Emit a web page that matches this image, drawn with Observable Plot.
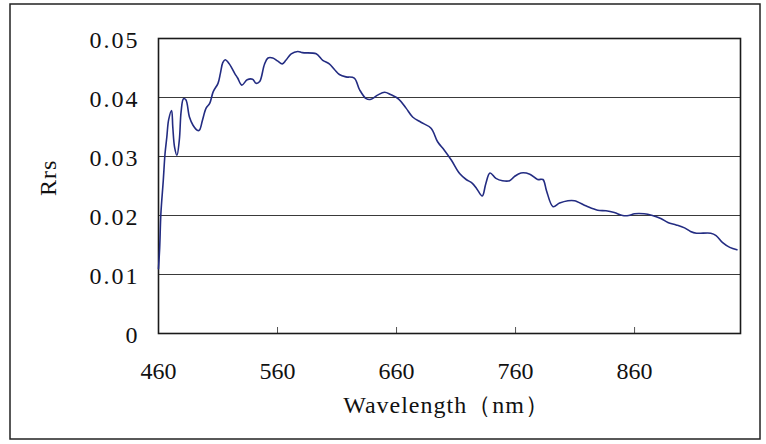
<!DOCTYPE html>
<html><head><meta charset="utf-8">
<script src="https://cdn.jsdelivr.net/npm/d3@7"></script>
<script src="https://cdn.jsdelivr.net/npm/@observablehq/plot@0.6"></script>
<style>body{margin:0;background:#fff}</style>
</head><body><div id="chart"></div>
<script>
const wavelength = [460,461,462,464,465.5,467,468.5,471,472,473.5,475.5,477.5,479,481,483,486,489,493,494.5,497,500,503,506,510,512,514,516,519.5,524,526.5,530,534.5,539,542,545,549,552,556,560,564,567,571.5,577,581,592.5,598,603.5,608,612,617.5,624.5,629,634.5,638.5,644,650,655,662,668,673.5,680.5,689,694.5,700,706,713,718.5,723.5,727.5,732,735,738.5,743.5,749,755,759,764.5,772,778.5,783,786,791.5,797,804,809.5,819.5,829,836,843,850,855,860,868,875,882,888,895,902,907,912,924,928.5,934,940,946];
const rrs = [0.0110,0.0146,0.0203,0.0259,0.0305,0.0333,0.0362,0.0378,0.0350,0.0316,0.0302,0.0328,0.0376,0.0398,0.0396,0.0367,0.0353,0.0344,0.0345,0.0362,0.0382,0.0390,0.0410,0.0424,0.0441,0.0459,0.0464,0.0457,0.0441,0.0433,0.0421,0.0430,0.0431,0.0424,0.0427,0.0456,0.0467,0.0467,0.0462,0.0457,0.0463,0.0474,0.0478,0.0476,0.0474,0.0463,0.0457,0.0447,0.0439,0.0435,0.0433,0.0413,0.0398,0.0397,0.0404,0.0409,0.0405,0.0397,0.0382,0.0367,0.0358,0.0348,0.0325,0.0311,0.0294,0.0271,0.0261,0.0255,0.0245,0.0233,0.0254,0.0272,0.0263,0.0259,0.0259,0.0266,0.0272,0.0270,0.0261,0.0261,0.0242,0.0215,0.0221,0.0225,0.0225,0.0216,0.0209,0.0208,0.0205,0.0200,0.0200,0.0203,0.0203,0.0200,0.0195,0.0188,0.0184,0.0179,0.0173,0.0170,0.0170,0.0166,0.0154,0.0146,0.0142];
const xTicks = [460,560,660,760,860];
const yTicks = [0,0.01,0.02,0.03,0.04,0.05];
const xTitle = "Wavelength（nm）";
const yTitle = "Rrs";

const data = wavelength.map((w,i)=>({w, r: rrs[i]}));

const chart = Plot.plot({
  width: 766, height: 444,
  marginLeft: 158, marginRight: 26, marginTop: 38, marginBottom: 111,
  style: {fontFamily: "'Liberation Serif', 'DejaVu Serif', serif", fontSize: "24px", background: "#fff", color: "#111"},
  x: {domain: [460, 949]},
  y: {domain: [0, 0.05]},
  marks: [
    Plot.gridY(yTicks.filter(d => d > 0), {stroke: "#3a3a3a", strokeOpacity: 1}),
    Plot.tickX(xTicks.slice(1), {x: d => d, stroke: "#555", insetTop: 289}),
    Plot.axisX({ticks: xTicks, tickSize: 0, tickPadding: 28, label: null, tickFormat: d => String(d)}),
    Plot.axisY({ticks: yTicks, tickSize: 0, tickPadding: 19, dy: 2, label: null, tickFormat: d => d === 0 ? "0" : d.toFixed(2)}),
    Plot.frame({stroke: "#1a1a1a", strokeWidth: 1.6}),
    Plot.line(data, {x: "w", y: "r", stroke: "#232c82", strokeWidth: 1.6, curve: "catmull-rom"}),
    Plot.text([yTitle], {frameAnchor: "left", dx: -110, dy: 10, rotate: -90, text: d => d}),
    Plot.text([xTitle], {frameAnchor: "bottom", dx: -3, dy: 79, text: d => d})
  ]
});
d3.select(chart).selectAll('g[aria-label="y-axis tick label"] text').style("letter-spacing", "2px");
d3.select(chart).selectAll('g[aria-label="text"] text').style("letter-spacing", "1px");
d3.select(chart).append("rect").attr("x", 10).attr("y", 4).attr("width", 750).attr("height", 435)
  .attr("fill", "none").attr("stroke", "#222").attr("stroke-width", 1.5);
document.getElementById("chart").appendChild(chart);
</script>
</body></html>
